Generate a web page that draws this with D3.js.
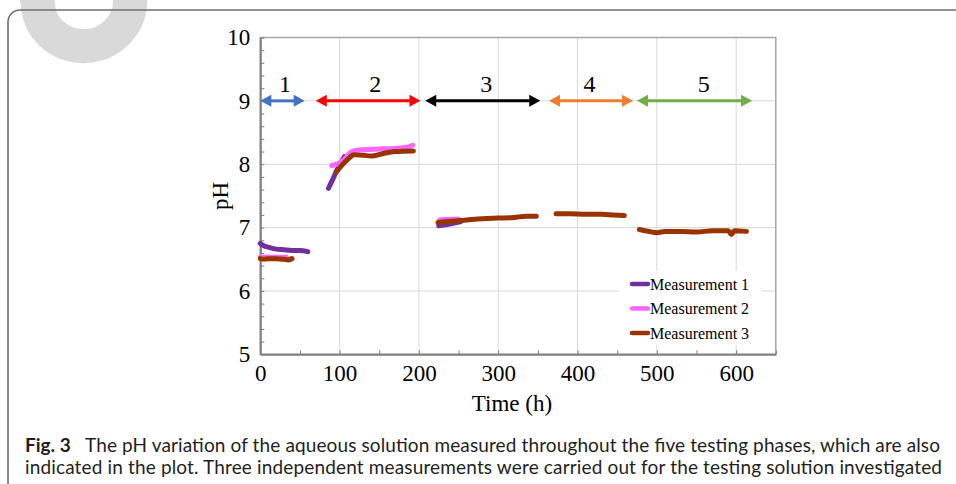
<!DOCTYPE html>
<html>
<head>
<meta charset="utf-8">
<script src="https://cdn.jsdelivr.net/npm/d3@7"></script>
<style>
  html, body { margin: 0; padding: 0; background: #fff; }
  svg { display: block; }
</style>
</head>
<body>
<div class="vis-ph"></div>
<script>
// measurement series, [time (h), pH], null pH = gap between phases
const m1 = [[0,6.75],[5,6.71],[10,6.69],[20,6.66],[30,6.65],[40,6.64],[50,6.64],[60,6.62],[61,null],
    [86,7.62],[92,7.78],[97,7.92],[102,8.03],[106,8.12],[107,null],
    [225,7.03],[232,7.04],[240,7.06],[252,7.09]];
const m2 = [[0,6.53],[10,6.53],[20,6.53],[33,6.53],[34,null],
    [90,7.98],[100,8.02],[107,8.09],[112,8.17],[118,8.21],[130,8.23],[150,8.24],[170,8.25],[185,8.27],[192,8.30],[193,null],
    [226,7.12],[238,7.13],[250,7.13]];
const m3 = [[0,6.51],[5,6.50],[10,6.51],[20,6.51],[30,6.50],[35,6.49],[40,6.51],[41,null],
    [96,7.88],[102,7.97],[108,8.05],[113,8.11],[118,8.15],[130,8.14],[140,8.13],[155,8.17],[170,8.20],[193,8.21],[194,null],
    [224,7.08],[240,7.10],[260,7.12],[280,7.14],[300,7.15],[320,7.16],[335,7.18],[348,7.18],[349,null],
    [373,7.22],[390,7.22],[410,7.21],[430,7.21],[445,7.20],[459,7.19],[460,null],
    [478,6.97],[490,6.94],[500,6.92],[510,6.94],[530,6.94],[550,6.93],[570,6.95],[590,6.95],[594,6.89],[598,6.95],[613,6.94]];
const seriesNames = ["Measurement 1", "Measurement 2", "Measurement 3"];
const seriesColors = ["#7030a0", "#ff66ff", "#993300"];

// testing phases shown as arrows at pH 9
const phaseLabels = ["1", "2", "3", "4", "5"];
const phaseStart = [0, 70, 208, 364, 475];
const phaseEnd = [56, 202, 353, 470, 620];
const phaseLabelAt = [31, 145, 285, 415, 559];
const phaseColors = ["#4472c4", "#ff0000", "#000000", "#ed7d31", "#70ad47"];

const xTicks = [0, 100, 200, 300, 400, 500, 600];
const yTicks = [5, 6, 7, 8, 9, 10];

const captionLine1 = "The pH variation of the aqueous solution measured throughout the five testing phases, which are also";
const captionLine2 = "indicated in the plot. Three independent measurements were carried out for the testing solution investigated";

const W = 956, H = 484;
const svg = d3.select(".vis-ph").append("svg")
    .attr("width", W).attr("height", H);

// watermark fragment (bottom of a large tilted letter)
svg.append("path")
    .attr("d", "M30,-40 L38,4 A46,44 -10 0 0 130,0 L136,-40")
    .attr("fill", "none")
    .attr("stroke", "#d9d9d9")
    .attr("stroke-width", 34);

// card frame
svg.append("path")
    .attr("d", "M8,490 V22 A12,12 0 0 1 20,10 H960")
    .attr("fill", "none")
    .attr("stroke", "#6d6d6d")
    .attr("stroke-width", 1.6);

const pLeft = 260.3, pRight = 775.8, pTop = 37.5, pBottom = 354.3;
const x = d3.scaleLinear().domain([0, 650]).range([pLeft, pRight]);
const y = d3.scaleLinear().domain([5, 10]).range([pBottom, pTop]);

const serif = "'Liberation Serif', 'Times New Roman', serif";

// grid
const grid = svg.append("g");
grid.selectAll(".gx").data(xTicks.slice(1))
    .enter().append("line")
    .attr("x1", d => x(d)).attr("x2", d => x(d))
    .attr("y1", pTop).attr("y2", pBottom)
    .attr("stroke", "#d9d9d9").attr("stroke-width", 1);
grid.selectAll(".gy").data(yTicks.slice(1, -1))
    .enter().append("line")
    .attr("x1", pLeft).attr("x2", pRight)
    .attr("y1", d => y(d)).attr("y2", d => y(d))
    .attr("stroke", "#d9d9d9").attr("stroke-width", 1);
svg.append("rect")
    .attr("x", pLeft).attr("y", pTop)
    .attr("width", pRight - pLeft).attr("height", pBottom - pTop)
    .attr("fill", "none").attr("stroke", "#a6a6a6").attr("stroke-width", 1.5);

// axes
const xMinor = d3.range(0, 651, 50);
const yMinor = d3.range(5, 10.01, 0.2);

svg.append("g")
    .attr("transform", "translate(0," + pBottom + ")")
    .call(d3.axisBottom(x).tickValues(xMinor).tickSize(-4).tickFormat(""))
    .call(g => g.select(".domain").remove())
    .selectAll("line").attr("stroke", "#7f7f7f");
svg.append("g")
    .attr("transform", "translate(" + pLeft + ",0)")
    .call(d3.axisLeft(y).tickValues(yMinor).tickSize(-4).tickFormat(""))
    .call(g => g.select(".domain").remove())
    .selectAll("line").attr("stroke", "#7f7f7f");

const xAxis = svg.append("g")
    .attr("transform", "translate(0," + pBottom + ")")
    .call(d3.axisBottom(x).tickValues(xTicks).tickFormat(d3.format("d"))
        .tickSize(0).tickPadding(10).tickSizeOuter(0));
const yAxis = svg.append("g")
    .attr("transform", "translate(" + pLeft + ",0)")
    .call(d3.axisLeft(y).tickValues(yTicks).tickFormat(d3.format("d"))
        .tickSize(0).tickPadding(10).tickSizeOuter(0));
[xAxis, yAxis].forEach(a => {
    a.select(".domain").attr("stroke", "#7f7f7f").attr("stroke-width", 2);
    a.selectAll("text").attr("font-family", serif).attr("font-size", 23).attr("fill", "#000");
});

svg.append("text")
    .attr("x", 512).attr("y", 411)
    .attr("text-anchor", "middle")
    .attr("font-family", serif).attr("font-size", 23)
    .text("Time (h)");
svg.append("text")
    .attr("transform", "translate(228,196) rotate(-90)")
    .attr("text-anchor", "middle")
    .attr("font-family", serif).attr("font-size", 23)
    .text("pH");

// phase arrows
const ay = y(9);
const headL = 11, headW = 6;
const phases = svg.append("g");
phaseLabels.forEach((lab, i) => {
    const x0 = x(phaseStart[i]), x1 = x(phaseEnd[i]);
    const g = phases.append("g");
    g.append("line")
        .attr("x1", x0 + headL - 1).attr("x2", x1 - headL + 1)
        .attr("y1", ay).attr("y2", ay)
        .attr("stroke", phaseColors[i]).attr("stroke-width", 3);
    g.append("path")
        .attr("d", `M${x0},${ay} L${x0 + headL},${ay - headW} L${x0 + headL},${ay + headW} Z`)
        .attr("fill", phaseColors[i]);
    g.append("path")
        .attr("d", `M${x1},${ay} L${x1 - headL},${ay - headW} L${x1 - headL},${ay + headW} Z`)
        .attr("fill", phaseColors[i]);
    g.append("text")
        .attr("x", x(phaseLabelAt[i])).attr("y", ay - 9)
        .attr("text-anchor", "middle")
        .attr("font-family", serif).attr("font-size", 24)
        .text(lab);
});

// series lines
const line = d3.line()
    .defined(d => d[1] !== null)
    .x(d => x(d[0]))
    .y(d => y(d[1]))
    .curve(d3.curveMonotoneX);

[m1, m2, m3].forEach((data, i) => {
    svg.append("path")
        .datum(data)
        .attr("d", line)
        .attr("fill", "none")
        .attr("stroke", seriesColors[i])
        .attr("stroke-width", 5)
        .attr("stroke-linecap", "round")
        .attr("stroke-linejoin", "round");
});

// legend
const legend = svg.append("g");
legend.append("rect")
    .attr("x", 619).attr("y", 271)
    .attr("width", 143).attr("height", 74)
    .attr("fill", "#fff");
seriesNames.forEach((name, i) => {
    const ly = 284 + i * 24.5;
    legend.append("line")
        .attr("x1", 632).attr("x2", 648)
        .attr("y1", ly).attr("y2", ly)
        .attr("stroke", seriesColors[i]).attr("stroke-width", 4.5)
        .attr("stroke-linecap", "round");
    legend.append("text")
        .attr("x", 650).attr("y", ly)
        .attr("dy", "0.35em")
        .attr("font-family", serif).attr("font-size", 16)
        .text(name);
});

// caption
const capFont = "Lato, 'Open Sans', sans-serif";
const cap1 = svg.append("text")
    .attr("y", 452)
    .attr("font-family", capFont).attr("font-size", 19).attr("fill", "#231f20");
cap1.append("tspan").attr("x", 25).attr("font-weight", "bold").text("Fig. 3");
cap1.append("tspan").attr("x", 85)
    .attr("textLength", 855).attr("lengthAdjust", "spacing")
    .text(captionLine1);
svg.append("text")
    .attr("x", 25).attr("y", 474)
    .attr("font-family", capFont).attr("font-size", 19).attr("fill", "#231f20")
    .attr("textLength", 917).attr("lengthAdjust", "spacing")
    .text(captionLine2);
</script>
</body>
</html>
